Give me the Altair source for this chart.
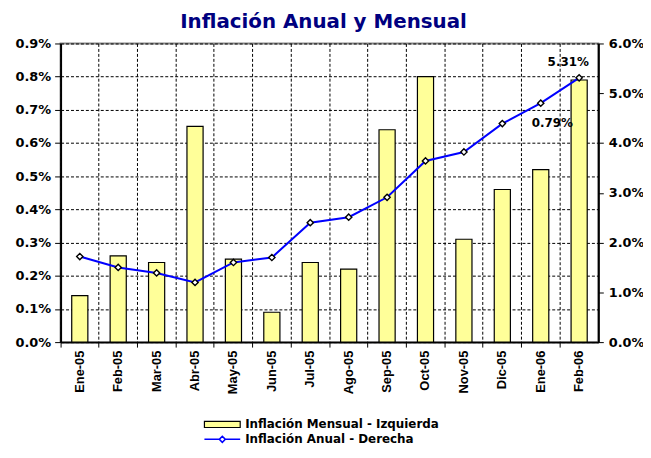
import altair as alt
import pandas as pd

months = ["Ene-05", "Feb-05", "Mar-05", "Abr-05", "May-05", "Jun-05", "Jul-05",
          "Ago-05", "Sep-05", "Oct-05", "Nov-05", "Dic-05", "Ene-06", "Feb-06"]
mensual = [0.14, 0.26, 0.24, 0.65, 0.25, 0.09, 0.24, 0.22, 0.64, 0.80, 0.31, 0.46, 0.52, 0.79]
anual = [1.72, 1.50, 1.39, 1.20, 1.60, 1.70, 2.40, 2.51, 2.91, 3.64, 3.82, 4.39, 4.80, 5.31]
left_ticks = [0.0, 0.1, 0.2, 0.3, 0.4, 0.5, 0.6, 0.7, 0.8, 0.9]
right_ticks = [0.0, 1.0, 2.0, 3.0, 4.0, 5.0, 6.0]
bar_name = "Inflación Mensual - Izquierda"
line_name = "Inflación Anual - Derecha"
title_text = "Inflación Anual y Mensual"

df = pd.DataFrame({
    "mes": months,
    "mensual": mensual,
    "anual": anual,
    "sb": [bar_name] * len(months),
    "sl": [line_name] * len(months),
})

W, H = 542, 301

x_enc = alt.X(
    "mes:N", sort=months, title=None,
    scale=alt.Scale(paddingInner=0, paddingOuter=0),
    axis=alt.Axis(
        bandPosition=0, labelAngle=-90,
        labelFont="Liberation Sans", labelFontWeight="bold", labelFontSize=13,
        labelColor="black", labelPadding=3,
        grid=True, gridColor="black", gridDash=[3, 2], gridWidth=1, gridOpacity=1,
        ticks=True, tickColor="black", tickSize=5, tickWidth=1,
        domainColor="black", domainWidth=2,
    ),
)

left_axis = alt.Axis(
    values=left_ticks, labelExpr="format(datum.value, '.1f') + '%'",
    grid=True, gridColor="black", gridDash=[3, 2], gridWidth=1, gridOpacity=1,
    domainColor="black", domainWidth=2, tickColor="black", tickSize=6,
    labelFont="DejaVu Sans", labelFontWeight="bold", labelFontSize=13,
    labelColor="black", labelPadding=4, title=None, orient="left",
)
right_axis = alt.Axis(
    values=right_ticks, labelExpr="format(datum.value, '.1f') + '%'",
    grid=False, domainColor="black", domainWidth=2, tickColor="black", tickSize=5,
    labelFont="DejaVu Sans", labelFontWeight="bold", labelFontSize=13,
    labelColor="black", labelPadding=5, title=None, orient="right",
)

y_left = alt.Y("mensual:Q", scale=alt.Scale(domain=[0, 0.9], nice=False, zero=True), axis=left_axis)
y_right = alt.Y("anual:Q", scale=alt.Scale(domain=[0, 6], nice=False, zero=True), axis=right_axis)

base = alt.Chart(df)

legend_common = dict(
    orient="none", legendX=144, title=None, symbolSize=1300,
    labelFont="DejaVu Sans", labelFontWeight="bold", labelFontSize=12,
    labelColor="black", padding=0, labelOffset=4, labelLimit=500,
)

bars = base.mark_bar(width={"band": 0.42}, stroke="black", strokeWidth=1.2).encode(
    x=x_enc, y=y_left,
    fill=alt.Fill("sb:N", scale=alt.Scale(domain=[bar_name], range=["#FFFF99"]),
                  legend=alt.Legend(
                      legendY=365,
                      symbolType="M-1,-0.17H1V0.17H-1Z",
                      symbolStrokeColor="black", symbolStrokeWidth=1.2,
                      **legend_common,
                  )),
)

bar_label = base.transform_filter(alt.datum.mes == "Feb-06").transform_calculate(
    lbl="format(datum.mensual, '.2f') + '%'"
).mark_text(font="DejaVu Sans", fontWeight="bold", fontSize=12, color="black",
            dx=-27, dy=43).encode(x=x_enc, y=y_left, text="lbl:N")

line = base.mark_line(strokeWidth=2).encode(
    x=x_enc, y=y_right,
    stroke=alt.Stroke("sl:N", scale=alt.Scale(domain=[line_name], range=["#0000FF"]),
                      legend=alt.Legend(
                          legendY=380,
                          symbolType="M-1,0H-0.17M0.17,0H1M-0.17,0L0,-0.17L0.17,0L0,0.17Z",
                          symbolStrokeWidth=1.5, symbolFillColor="white",
                          **legend_common,
                      )),
)

points = base.mark_point(shape="diamond", filled=True, fill="white", stroke="black",
                         strokeWidth=1.4, size=40, opacity=1).encode(x=x_enc, y=y_right)

line_label = base.transform_filter(alt.datum.mes == "Feb-06").transform_calculate(
    lbl="format(datum.anual, '.2f') + '%'"
).mark_text(font="DejaVu Sans", fontWeight="bold", fontSize=12, color="black",
            dx=-11, dy=-16).encode(x=x_enc, y=y_right, text="lbl:N")

left_layer = alt.layer(bars, bar_label)
right_layer = alt.layer(line, points, line_label)

chart = alt.layer(left_layer, right_layer).resolve_scale(
    y="independent", fill="independent", stroke="independent"
).properties(
    width=W, height=H,
    title=alt.Title(title_text, font="DejaVu Sans", fontSize=20, fontWeight="bold",
                    color="#000080", anchor="middle", frame="group", offset=6, dx=-6),
    padding={"left": 53, "top": 34, "right": 45, "bottom": 110},
    autosize=alt.AutoSizeParams(type="none"),
).configure_view(stroke="#888888", strokeWidth=2)

chart.save("out.html", embed_options={"renderer": "svg", "actions": False})
